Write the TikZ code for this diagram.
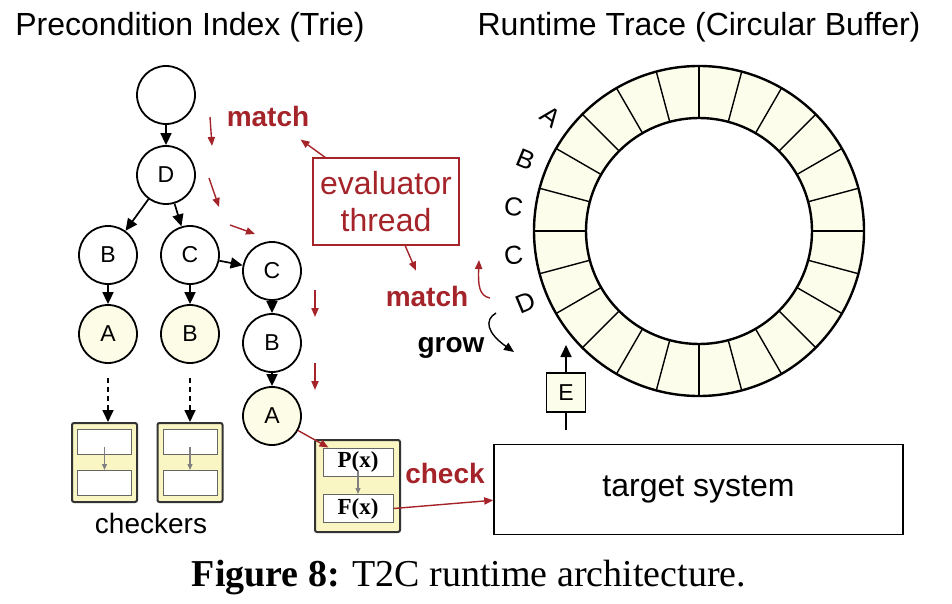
\documentclass[tikz,border=0pt]{standalone}
\usepackage{fontspec}
\setmainfont{Liberation Sans}
\newfontfamily\captionfont{Liberation Serif}
\usetikzlibrary{arrows.meta}

\definecolor{matchred}{RGB}{164, 36, 42}
\definecolor{leaffill}{RGB}{253, 252, 230}
\definecolor{ringfill}{RGB}{253, 253, 236}
\definecolor{checkerfill}{RGB}{250, 246, 196}

\tikzset{
    trienode/.style={circle, draw, line width=0.9pt, minimum size=29pt, inner sep=0pt,
        font=\fontsize{11.5}{13}\selectfont},
    leafnode/.style={trienode, fill=leaffill},
    link/.style={line width=0.85pt, -{Triangle[length=6pt, width=5.5pt]}},
    graylink/.style={gray, line width=0.6pt, -{Triangle[length=3pt, width=2.5pt]}},
    redlink/.style={matchred, line width=0.7pt, -{Triangle[length=4.5pt, width=3.6pt]}},
    checker/.style={draw=black!80, fill=checkerfill, line width=1pt, rounded corners=1pt,
        minimum width=32.5pt, minimum height=39.5pt, inner sep=0pt},
    slotbox/.style={draw=black!60, fill=white, line width=0.5pt, minimum width=27pt,
        minimum height=12.5pt, inner sep=0pt},
    formula/.style={slotbox, minimum width=35pt, minimum height=14pt,
        font=\captionfont\bfseries\fontsize{11.5}{13}\selectfont},
    boldlabel/.style={inner sep=0pt, font=\bfseries\fontsize{14}{16}\selectfont},
    redlabel/.style={boldlabel, text=matchred},
    bigtext/.style={font=\fontsize{16}{19}\selectfont},
}

\begin{document}
\begin{tikzpicture}[x=0.5pt, y=-0.5pt]
    \useasboundingbox (0, 0) rectangle (952, 604);

    \node [bigtext, anchor=base] (trietitle) at (190, 36) {Precondition Index (Trie)};
    \node [bigtext, anchor=base] (tracetitle) at (699, 36) {Runtime Trace (Circular Buffer)};

    \node [trienode] (root) at (166, 95) {};
    \node [trienode] (d) at (166, 175) {D};
    \node [trienode] (b1) at (108, 255) {B};
    \node [trienode] (c1) at (190, 255) {C};
    \node [trienode] (c2) at (272, 271) {C};
    \node [leafnode] (a1) at (108, 334) {A};
    \node [leafnode] (b2) at (190, 334) {B};
    \node [trienode] (b3) at (272, 343) {B};
    \node [leafnode] (a3) at (272, 416) {A};

    \draw [link] (root) -- (d);
    \draw [link] (d) -- (b1);
    \draw [link] (d) -- (c1);
    \draw [link] (c1) -- (c2);
    \draw [link] (b1) -- (a1);
    \draw [link] (c1) -- (b2);
    \draw [link] (c2) -- (b3);
    \draw [link] (b3) -- (a3);

    \node [checker] (ck1) at (104.5, 462.5) {};
    \node [slotbox] (ck1p) at (104.5, 441.5) {};
    \node [slotbox] (ck1f) at (104.5, 483) {};
    \node [checker] (ck2) at (190, 462.5) {};
    \node [slotbox] (ck2p) at (190, 441.5) {};
    \node [slotbox] (ck2f) at (190, 483) {};
    \node [font=\fontsize{14}{16}\selectfont, anchor=base] (checkers) at (151, 533) {checkers};

    \draw [link, dashed, dash pattern=on 2.5pt off 2pt, shorten <=7pt] (a1) -- (a1 |- ck1.north);
    \draw [link, dashed, dash pattern=on 2.5pt off 2pt, shorten <=7pt] (b2) -- (b2 |- ck2.north);
    \draw [graylink] ([yshift=4pt]ck1p.south) -- (ck1f.north);
    \draw [graylink] ([yshift=4pt]ck2p.south) -- (ck2f.north);

    \node [checker, minimum width=42.5pt, minimum height=46pt] (pf) at (357.5, 486) {};
    \node [formula] (px) at (358, 462) {P(x)};
    \node [formula] (fx) at (358, 508.5) {F(x)};
    \draw [graylink] ([yshift=3pt]px.south) -- (fx.north);

    \node [draw, line width=0.8pt, minimum width=204.5pt, minimum height=45pt, bigtext] (target) at (698.5, 489.5) {target system};

    \node [draw=matchred, line width=0.6pt, text=matchred, minimum width=73pt, minimum height=43.5pt,
        align=center, font=\fontsize{16}{18.5}\selectfont] (eval) at (386, 201.5) {evaluator\\thread};

    \node [redlabel] (match1) at (268, 116) {match};
    \node [redlabel] (match2) at (427, 296) {match};
    \node [redlabel] (check) at (445, 473) {check};
    \node [boldlabel] (grow) at (451, 348) {grow};

    \draw [redlink, shorten >=11pt] (eval) -- (match1);
    \draw [redlink, shorten >=8pt] (eval) -- (match2);
    \draw [redlink] (a3) -- ([xshift=3pt]px.north west);
    \draw [redlink] (fx.east) -- (target.183);

    \draw [redlink] (210, 117) -- (212, 146);
    \draw [redlink] (209, 178) -- (219, 207);
    \draw [redlink] (230, 225) -- (255, 234);
    \draw [redlink] (315, 290) -- (315, 317);
    \draw [redlink] (315, 363) -- (315, 390);
    \draw [redlink] (490, 298) .. controls (479, 296) and (478, 285) .. (479, 260);
    \draw [line width=0.7pt, -{Triangle[length=5pt, width=4.2pt]}] (496, 313) .. controls (484, 320) and (487, 333) .. (514, 352);

    \begin{scope}[shift={(699, 231)}, yscale=-1]
        \draw [line width=1.2pt, fill=ringfill, even odd rule] (0, 0) circle (165) (0, 0) circle (113);
        \foreach \a in {0, 15, ..., 345}
            \draw [line width=0.7pt] (\a:113) -- (\a:165);
        \foreach \a/\l [count=\i] in {142.5/A, 157.5/B, 172.5/C, 187.5/C, 202.5/D}
            \node [rotate=\a-180, font=\fontsize{13}{15}\selectfont] (trace\i) at (\a:187) {\l};
    \end{scope}

    \node [draw, fill=ringfill, line width=0.9pt, minimum size=19.5pt, inner sep=0pt,
        font=\fontsize{11.5}{13}\selectfont] (e) at (566, 392.5) {E};
    \coordinate (ebase) at (566, 430);
    \coordinate (etip) at (566, 345);
    \draw [line width=0.9pt] (ebase) -- (e);
    \draw [link] (e) -- (etip);

    \node [anchor=base, font=\captionfont\fontsize{19}{22}\selectfont] (caption) at (469, 586) {\textbf{Figure 8:} T2C runtime architecture.};
\end{tikzpicture}
\end{document}
